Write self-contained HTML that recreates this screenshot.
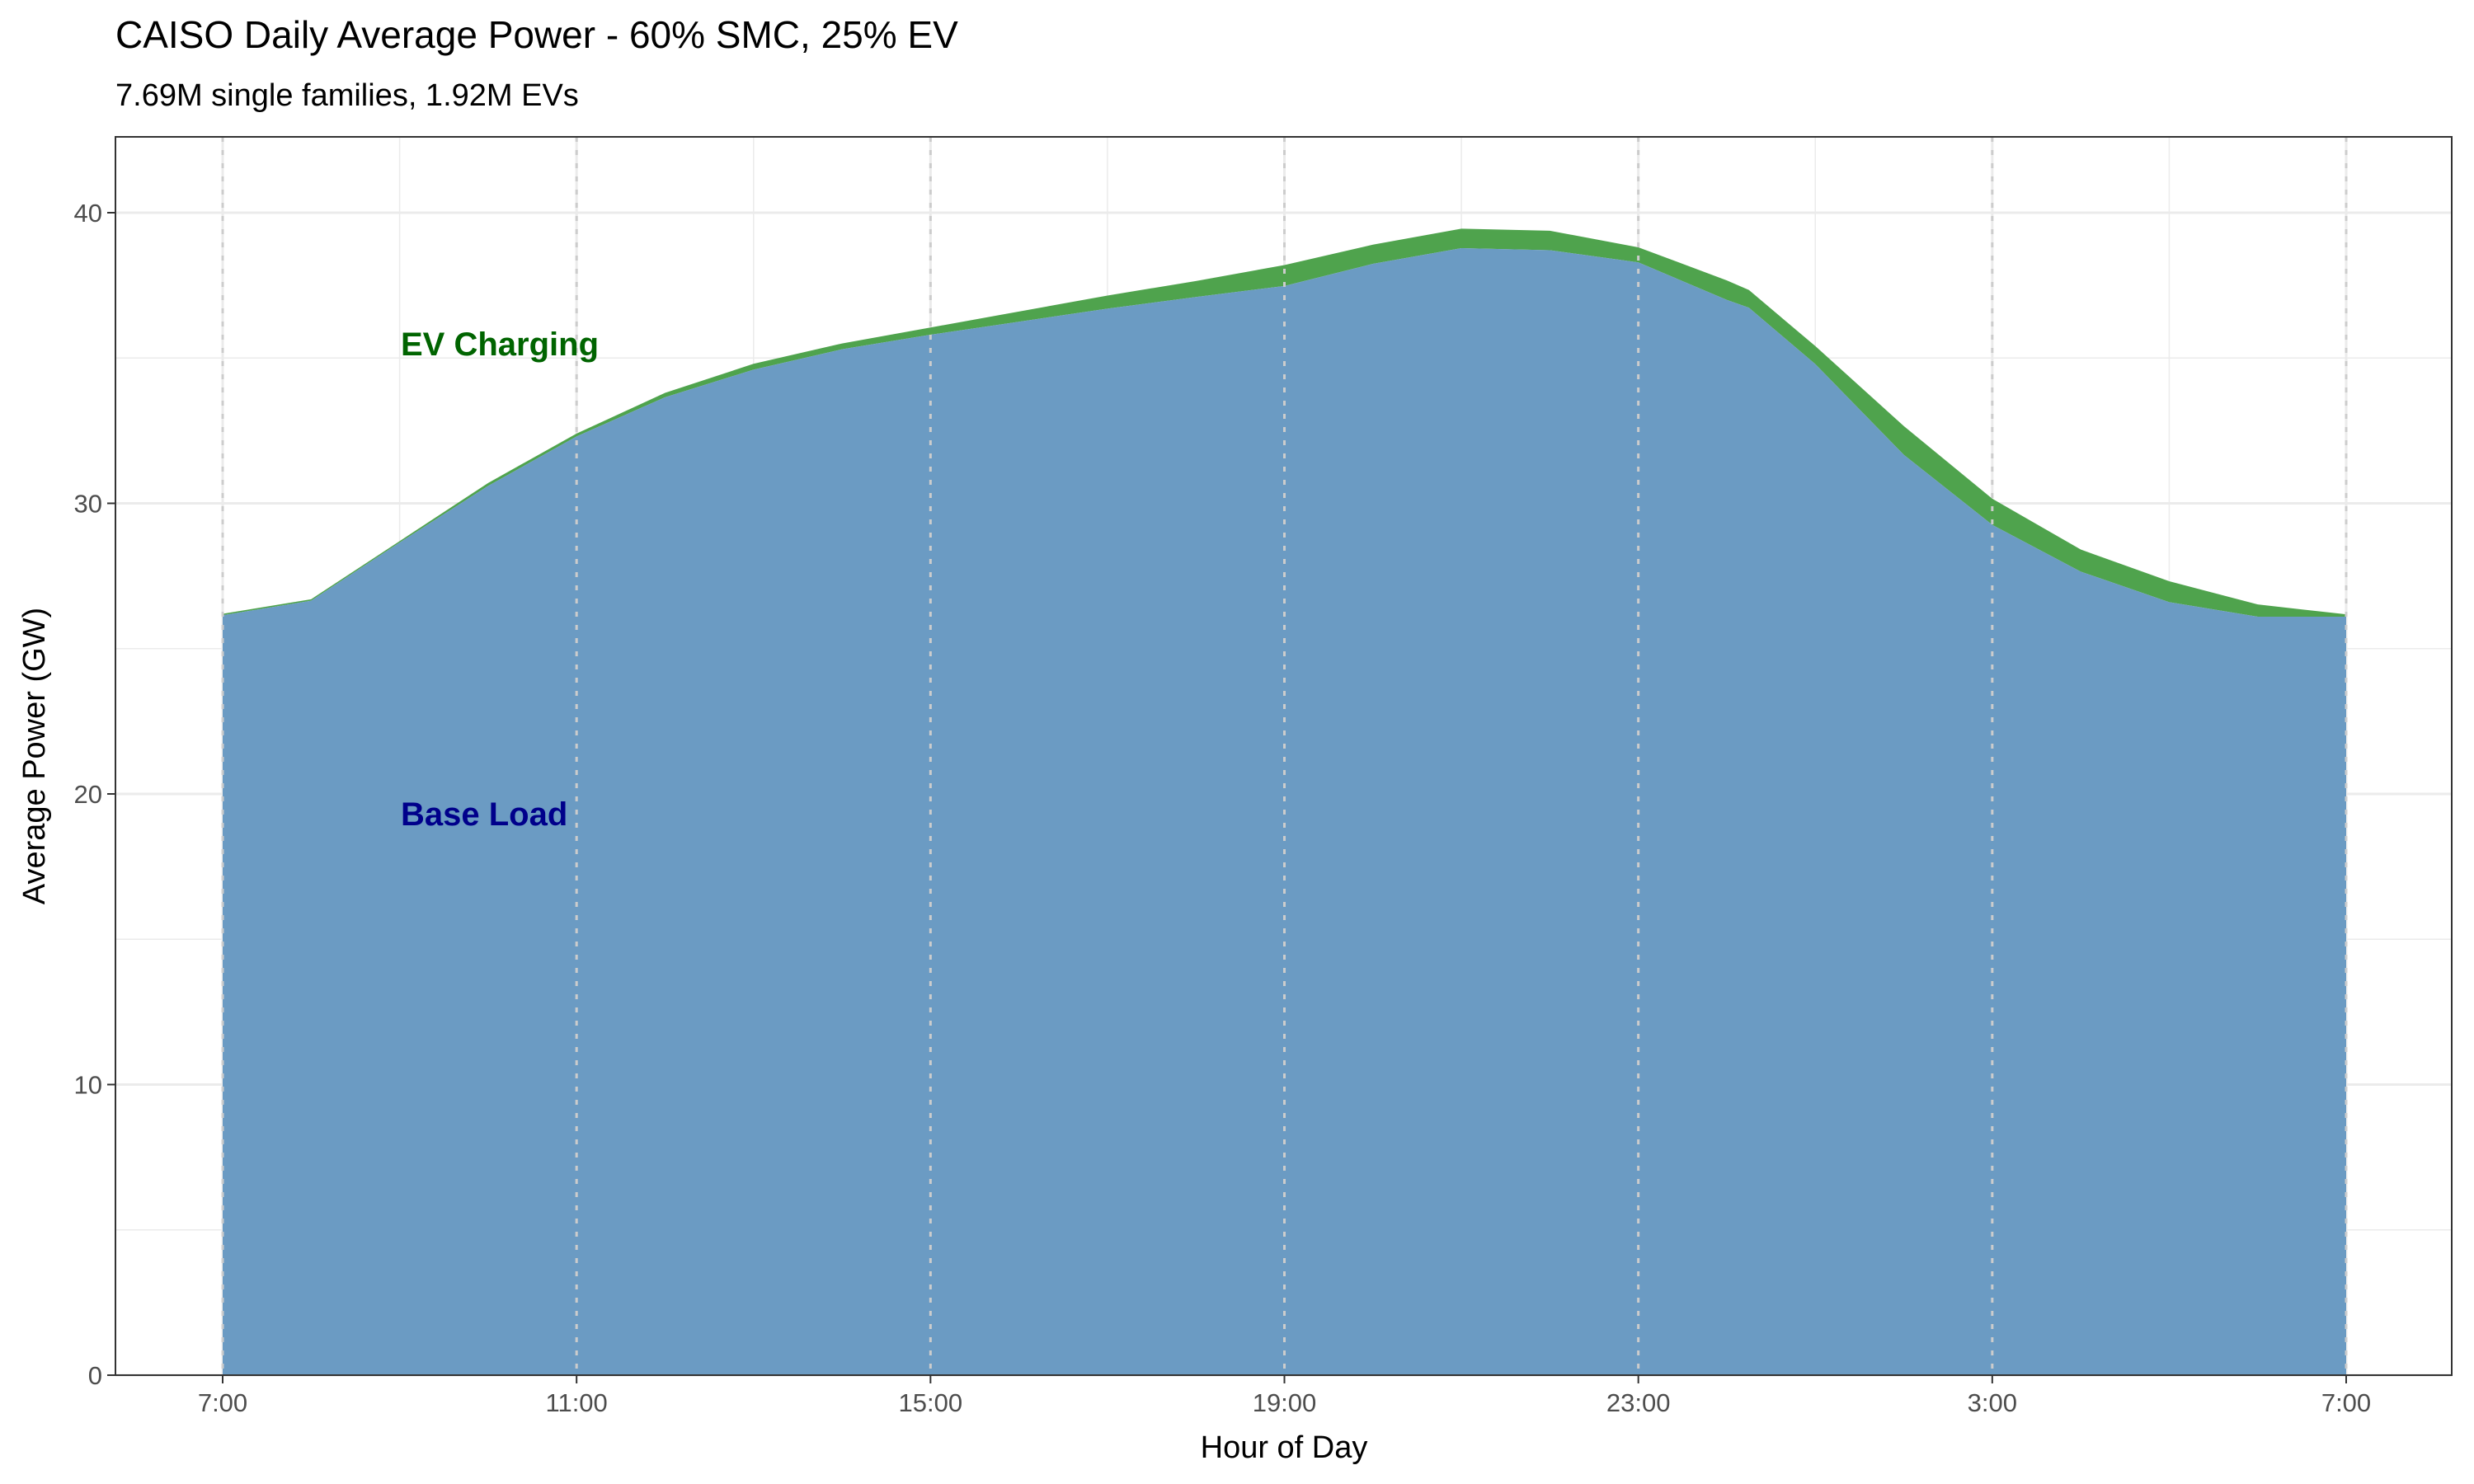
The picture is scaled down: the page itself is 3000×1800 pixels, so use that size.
<!DOCTYPE html>
<html><head><meta charset="utf-8"><style>
html,body{margin:0;padding:0;background:#fff}
svg{display:block;font-family:"Liberation Sans",Arial,sans-serif}
</style></head><body>
<svg id="chart" width="3000" height="1800" viewBox="0 0 3000 1800">
<text x="140" y="58" font-size="46" fill="#000">CAISO Daily Average Power - 60% SMC, 25% EV</text>
<text x="140" y="128" font-size="38" fill="#000">7.69M single families, 1.92M EVs</text>
<g id="grid"></g>
<g id="areas"></g>
<g id="vlines"></g>
<rect x="140" y="166" width="2833" height="1502" fill="none" stroke="#333" stroke-width="2"/>
<g id="axes"></g>
<text x="486" y="431" font-size="40" font-weight="bold" fill="#006400">EV Charging</text>
<text x="486" y="1001" font-size="40" font-weight="bold" fill="#00008b">Base Load</text>
<text x="1557" y="1768" font-size="38" text-anchor="middle" fill="#000">Hour of Day</text>
<text transform="translate(54,917) rotate(-90)" font-size="38" text-anchor="middle" fill="#000">Average Power (GW)</text>
</svg>
<script>
const hours=[7,8,9,10,11,12,13,14,15,16,17,18,19,20,21,22,23,24,24.25,25,26,27,28,29,30,31];
const totalLoad=[26.2,26.7,28.7,30.7,32.4,33.8,34.8,35.5,36.05,36.6,37.15,37.65,38.2,38.9,39.45,39.38,38.81,37.67,37.34,35.41,32.66,30.16,28.41,27.32,26.52,26.18];
const baseLoad=[26.15,26.65,28.65,30.6,32.3,33.65,34.6,35.3,35.8,36.25,36.7,37.1,37.48,38.24,38.78,38.71,38.29,37.0,36.73,34.79,31.67,29.26,27.65,26.6,26.1,26.1];
const yTicks=[0,10,20,30,40];
const xTicks=[7,11,15,19,23,27,31];
const xTickLabels=["7:00","11:00","15:00","19:00","23:00","3:00","7:00"];
const NS="http://www.w3.org/2000/svg";
const X=h=>270+(h-7)*(2575/24);
const Y=v=>1668-v*35.25;
function mk(tag,attrs,parent){const e=document.createElementNS(NS,tag);for(const k in attrs)e.setAttribute(k,attrs[k]);parent.appendChild(e);return e;}
const gridG=document.getElementById('grid'),areasG=document.getElementById('areas'),vlG=document.getElementById('vlines'),axesG=document.getElementById('axes');
for(let v=5;v<=40;v+=10){const l=mk('line',{x1:140,x2:2973,y1:Y(v),y2:Y(v),stroke:'#ebebeb','stroke-width':1.5},gridG);

}
for(let h=9;h<=29;h+=4){const l=mk('line',{x1:X(h),x2:X(h),y1:166,y2:1668,stroke:'#ebebeb','stroke-width':1.5},gridG);

}
yTicks.forEach(v=>{const l=mk('line',{x1:140,x2:2973,y1:Y(v),y2:Y(v),stroke:'#ebebeb','stroke-width':3},gridG);


const t=mk('line',{x1:130,x2:140,y1:Y(v),y2:Y(v),stroke:'#333','stroke-width':2},axesG);


const tx=mk('text',{x:124,y:Y(v)+11,'font-size':31,'text-anchor':'end',fill:'#4d4d4d'},axesG);tx.textContent=v;

});
xTicks.forEach((h,i)=>{const l=mk('line',{x1:X(h),x2:X(h),y1:166,y2:1668,stroke:'#ebebeb','stroke-width':3},gridG);


const d=mk('line',{x1:X(h),x2:X(h),y1:166,y2:1668,stroke:'#cccccc','stroke-width':3,'stroke-dasharray':'6 10'},vlG);


const t=mk('line',{x1:X(h),x2:X(h),y1:1668,y2:1678,stroke:'#333','stroke-width':2},axesG);


const tx=mk('text',{x:X(h),y:1712,'font-size':31,'text-anchor':'middle',fill:'#4d4d4d'},axesG);tx.textContent=xTickLabels[i];

});
const topPts=hours.map((h,i)=>X(h)+','+Y(totalLoad[i])).join(' ');
const basePts=hours.map((h,i)=>X(h)+','+Y(baseLoad[i]));
const ev=mk('polygon',{points:topPts+' '+basePts.slice().reverse().join(' '),fill:'#4fa34d'},areasG);


const bl=mk('polygon',{points:X(hours[0])+','+Y(0)+' '+basePts.join(' ')+' '+X(hours[hours.length-1])+','+Y(0),fill:'#6b9bc3'},areasG);


</script>
</body></html>
